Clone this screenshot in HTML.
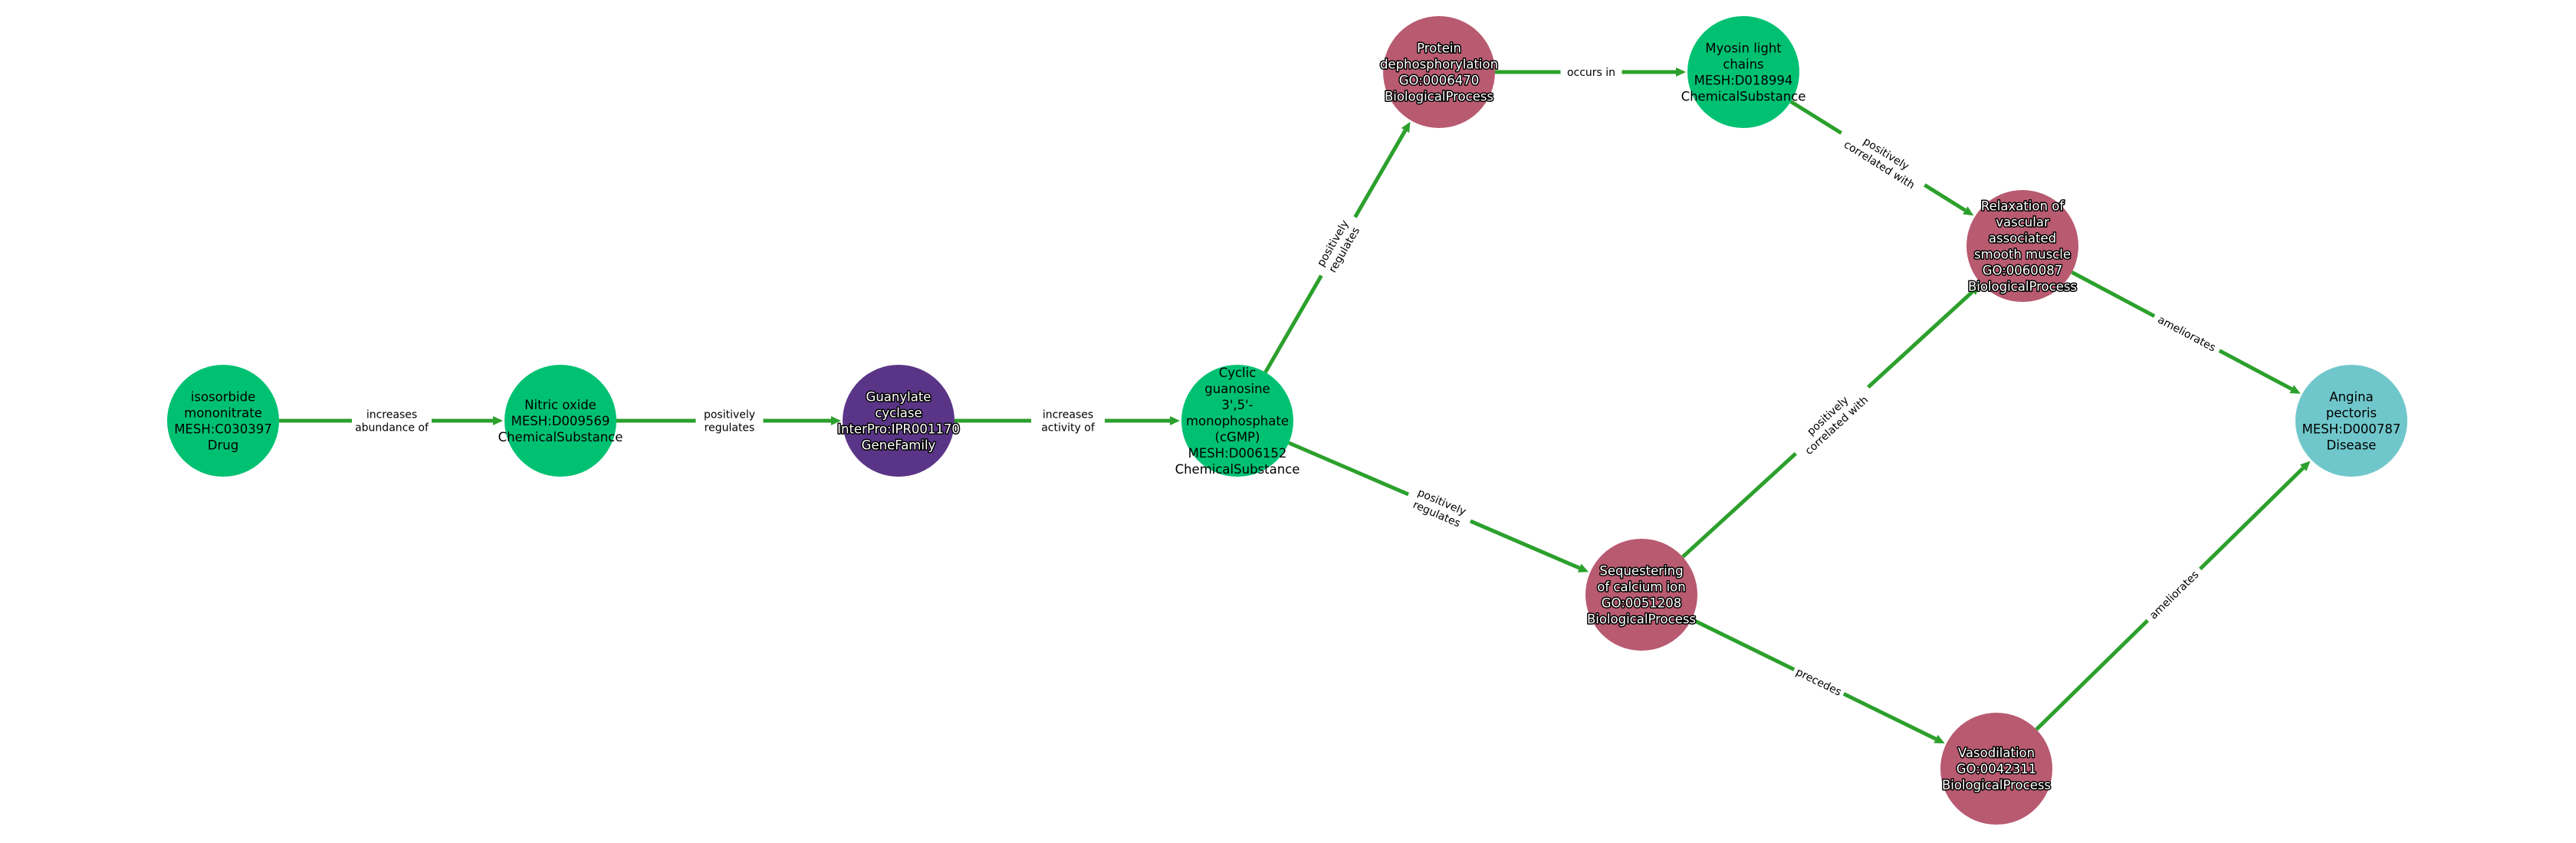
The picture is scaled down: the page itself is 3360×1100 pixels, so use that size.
<!DOCTYPE html>
<html><head><meta charset="utf-8"><style>
html,body{margin:0;padding:0;background:#fff;}
svg{display:block}
text{font-family:"DejaVu Sans","Liberation Sans",sans-serif;}
.nl{font-size:16.5px;text-anchor:middle;fill:#000;}
.wl{fill:#fff;stroke:#000;stroke-width:3px;paint-order:stroke;stroke-linejoin:round;}
.el{font-size:14px;text-anchor:middle;fill:#000;}
</style></head><body>
<svg id="s" width="3360" height="1100" viewBox="0 0 3360 1100" xmlns="http://www.w3.org/2000/svg"></svg>
<script>
const G='#00c172',M='#b85a70',P='#5a3587',T='#70c7cb';
const N={
iso:[291,549,G,['isosorbide','mononitrate','MESH:C030397','Drug'],0],
no:[731,549,G,['Nitric oxide','MESH:D009569','ChemicalSubstance'],0],
gc:[1172,549,P,['Guanylate','cyclase','InterPro:IPR001170','GeneFamily'],1],
cg:[1614,549,G,['Cyclic','guanosine',"3',5'-",'monophosphate','(cGMP)','MESH:D006152','ChemicalSubstance'],0],
pd:[1877,94,M,['Protein','dephosphorylation','GO:0006470','BiologicalProcess'],1],
my:[2274,94,G,['Myosin light','chains','MESH:D018994','ChemicalSubstance'],0],
rx:[2638,321,M,['Relaxation of','vascular','associated','smooth muscle','GO:0060087','BiologicalProcess'],1],
an:[3067,549,T,['Angina','pectoris','MESH:D000787','Disease'],0],
sq:[2141,776,M,['Sequestering','of calcium ion','GO:0051208','BiologicalProcess'],1],
va:[2604,1003,M,['Vasodilation','GO:0042311','BiologicalProcess'],1]};
const E=[['iso','no',['increases','abundance of']],['no','gc',['positively','regulates']],['gc','cg',['increases','activity of']],
['cg','pd',['positively','regulates']],['pd','my',['occurs in']],['my','rx',['positively','correlated with']],['rx','an',['ameliorates']],
['cg','sq',['positively','regulates']],['sq','rx',['positively','correlated with']],['sq','va',['precedes']],['va','an',['ameliorates']]];
const R=73;let h='';const C='#2ca02c';
for(const [a,b,l] of E){const A=N[a],B=N[b];const dx=B[0]-A[0],dy=B[1]-A[1],d=Math.hypot(dx,dy),ux=dx/d,uy=dy/d;
const x1=A[0]+ux*R,y1=A[1]+uy*R,x2=B[0]-ux*(R+2),y2=B[1]-uy*(R+2);
const bx=x2-ux*13,by=y2-uy*13,px=-uy*6,py=ux*6;
h+=`<line x1="${x1}" y1="${y1}" x2="${bx}" y2="${by}" stroke="${C}" stroke-width="5"/>`;
h+=`<polygon points="${x2},${y2} ${bx+px},${by+py} ${bx-px},${by-py}" fill="${C}"/>`;
let ang=Math.atan2(dy,dx)*180/Math.PI;if(ang>90)ang-=180;if(ang<-90)ang+=180;
const mx=(A[0]+B[0])/2,my=(A[1]+B[1])/2;
const w=Math.max(...l.map(s=>s.length))*8+8,hh=l.length*17+4;
h+=`<g transform="translate(${mx},${my}) rotate(${ang})"><rect x="${-w/2}" y="${-hh/2}" width="${w}" height="${hh}" fill="#fff"/>`;
l.forEach((s,i)=>{h+=`<text class="el" x="0" y="${(i-(l.length-1)/2)*17+5}">${s}</text>`});h+='</g>';}
for(const k in N){const [x,y,c,l,w]=N[k];h+=`<circle cx="${x}" cy="${y}" r="${R}" fill="${c}"/>`;
l.forEach((s,i)=>{h+=`<text class="nl${w?' wl':''}" x="${x}" y="${y+(i-(l.length-1)/2)*21+6}">${s}</text>`});}
document.getElementById('s').innerHTML=h;
</script>
</body></html>
